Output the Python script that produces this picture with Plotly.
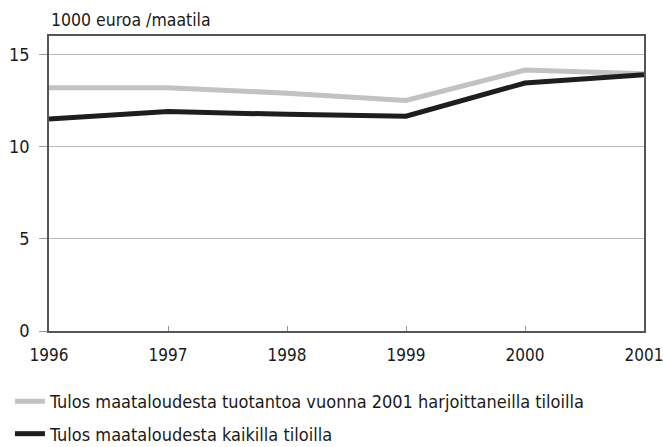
import plotly.graph_objs as go

# vuodet ja tulokset (1000 euroa / maatila)
vuodet = [1996, 1997, 1998, 1999, 2000, 2001]
tulos_2001_tilat = [13.2, 13.2, 12.9, 12.5, 14.15, 13.95]
tulos_kaikki_tilat = [11.5, 11.9, 11.75, 11.65, 13.45, 13.9]

nimet = [
    "Tulos maataloudesta tuotantoa vuonna 2001 harjoittaneilla tiloilla",
    "Tulos maataloudesta kaikilla tiloilla",
]
y_tikit = [0, 5, 10, 15]

fontti = "Liberation Sans Narrow, DejaVu Sans Condensed, Arial Narrow, sans-serif"

fig = go.Figure()
fig.add_trace(
    go.Scatter(
        x=vuodet,
        y=tulos_2001_tilat,
        mode="lines",
        name=nimet[0],
        legendgroup="a",
        line=dict(color="#c2c2c2", width=5),
    )
)
fig.add_trace(
    go.Scatter(
        x=vuodet,
        y=tulos_kaikki_tilat,
        mode="lines",
        name=nimet[1],
        legendgroup="b",
        line=dict(color="#1e1e1e", width=5),
    )
)

fig.update_layout(
    width=663,
    height=447,
    margin=dict(l=49, r=19, t=36, b=116, autoexpand=False),
    paper_bgcolor="white",
    plot_bgcolor="white",
    font=dict(family=fontti, size=18, color="#1a1a1a"),
    showlegend=True,
    legend=dict(
        orientation="v",
        xref="container",
        yref="container",
        x=0.015,
        y=0.143,
        xanchor="left",
        yanchor="top",
        font=dict(size=18),
        tracegroupgap=6,
        traceorder="grouped",
    ),
    annotations=[
        dict(
            text="1000 euroa /maatila",
            xref="paper",
            yref="paper",
            x=0,
            y=1.0,
            xanchor="left",
            yanchor="bottom",
            yshift=4,
            showarrow=False,
            font=dict(size=17.5),
        )
    ],
)

fig.update_xaxes(
    range=[1996, 2001],
    tickmode="array",
    tickvals=vuodet,
    ticks="inside",
    ticklen=5,
    tickcolor="#999",
    tickfont=dict(size=17),
    showgrid=False,
    showline=True,
    linecolor="#555",
    linewidth=1.5,
    mirror=True,
    zeroline=False,
    ticklabelstandoff=8,
    ticklabeloverflow="allow",
)
fig.update_yaxes(
    range=[0, 16],
    tickmode="array",
    tickvals=y_tikit,
    ticks="outside",
    ticklen=8,
    tickcolor="#999",
    showgrid=True,
    gridcolor="#bbbbbb",
    gridwidth=1,
    showline=True,
    linecolor="#555",
    linewidth=1.5,
    mirror=True,
    zeroline=False,
    ticklabelstandoff=6,
)

# sivun oletusmarginaali pois, jotta kuva osuu ikkunaan
fig.write_html(
    "out.html",
    config={"displayModeBar": False},
    post_script="document.body.style.margin='0';",
)
